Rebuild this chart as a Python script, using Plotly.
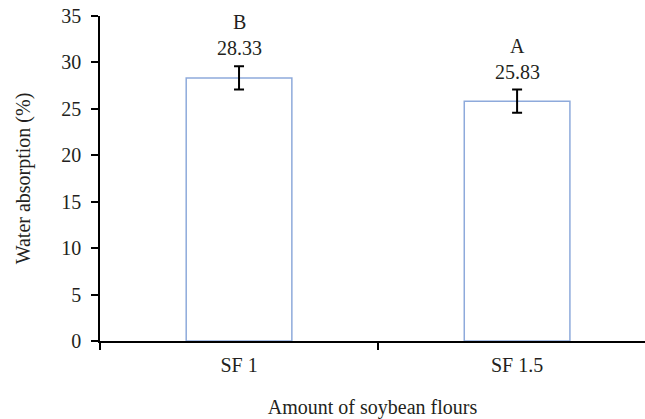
import plotly.graph_objects as go

categories = ["SF 1", "SF 1.5"]
values = [28.33, 25.83]
errors = [1.25, 1.25]
letters = ["B", "A"]
value_labels = ["28.33", "25.83"]
y_ticks = [0, 5, 10, 15, 20, 25, 30, 35]

FONT = "Liberation Serif"
TXT = "#231F20"
FS = 20

fig = go.Figure()
fig.add_trace(go.Bar(
    x=categories, y=values,
    width=0.38,
    marker=dict(color="white", line=dict(color="#8EAADB", width=1.5)),
    error_y=dict(type="data", array=errors, visible=True, color="black",
                 thickness=2, width=5),
    showlegend=False,
))

for c, v, e, l, vl in zip(categories, values, errors, letters, value_labels):
    fig.add_annotation(x=c, y=v + e, text=vl, showarrow=False, yanchor="bottom",
                       yshift=5, font=dict(family=FONT, size=FS, color=TXT))
    fig.add_annotation(x=c, y=v + e, text=l, showarrow=False, yanchor="bottom",
                       yshift=31, font=dict(family=FONT, size=FS, color=TXT))

fig.update_layout(
    width=645, height=419,
    margin=dict(l=100, r=0, t=16, b=78),
    plot_bgcolor="white", paper_bgcolor="white",
    font=dict(family=FONT, size=FS, color=TXT),
)
fig.update_xaxes(
    type="category", range=[-0.5, 1.46],
    showline=True, linecolor="black", linewidth=1.5,
    ticks="outside", tickson="boundaries", ticklen=7, tickwidth=1.5, tickcolor="black",
    showgrid=False, zeroline=False, ticklabelstandoff=5,
    tickfont=dict(family=FONT, size=FS, color=TXT),
    title=dict(text="Amount of soybean flours", font=dict(family=FONT, size=FS, color=TXT),
               standoff=27),
)
fig.update_yaxes(
    range=[0, 35], tickvals=y_ticks,
    showline=True, linecolor="black", linewidth=1.5,
    ticks="outside", ticklen=7, tickwidth=1.5, tickcolor="black",
    showgrid=False, zeroline=False, ticklabelstandoff=6,
    tickfont=dict(family=FONT, size=FS, color=TXT),
    title=dict(text="Water absorption (%)", font=dict(family=FONT, size=FS, color=TXT),
               standoff=25),
)

fig.write_html("out.html")
